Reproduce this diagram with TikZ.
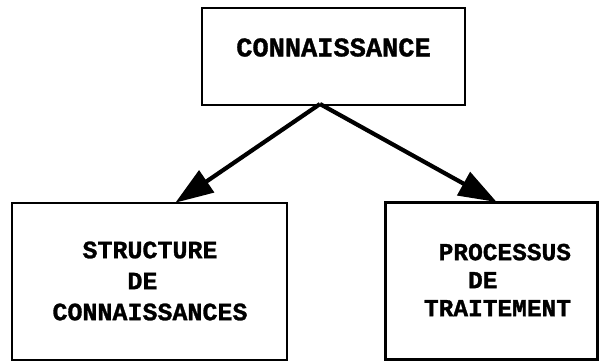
\documentclass[tikz,border=0pt]{standalone}
\usepackage{fontspec}
\setmonofont{Liberation Mono}
\newfontfamily\heavymono{Liberation Mono Bold}[FakeBold=1.2]
\usetikzlibrary{arrows.meta}
\tikzset{
  boxnode/.style={draw=black, line width=2.8pt, rectangle, inner sep=0pt},
  boxtext/.style={font=\heavymono\fontsize{25}{31}\selectfont, align=left, inner sep=0pt},
  conn/.style={line width=4.2pt, -{Triangle[length=38pt,width=26pt]}, shorten >=-2pt}
}
\begin{document}
\begin{tikzpicture}[x=1pt,y=-1pt]
\useasboundingbox (0,0) rectangle (600,361);
% boxes
\node[boxnode, minimum width=263pt, minimum height=97pt] (top) at (333.5,56.5) {};
\node[boxnode, minimum width=275pt, minimum height=157pt] (left) at (149.5,281.5) {};
\node[boxnode, minimum width=212pt, minimum height=157pt] (right) at (491.5,281) {};
% texts
\node[boxtext, font=\heavymono\fontsize{27}{31}\selectfont] (ttop) at (333.5,47.5) {CONNAISSANCE};
\node[boxtext] (tleft) at (150,281) {\phantom{XX}STRUCTURE\\\phantom{XXXXX}DE\\CONNAISSANCES};
\node[boxtext, font=\heavymono\fontsize{24.5}{28}\selectfont] (tright) at (497.5,280) {\phantom{X}PROCESSUS\\\phantom{XXX}DE\\TRAITEMENT};
% connectors
\coordinate (src) at (320,104);
\draw[conn] (src) -- (left.north -| 177,0);
\draw[conn] (src) -- (right.north -| 495,0);
\end{tikzpicture}
\end{document}
